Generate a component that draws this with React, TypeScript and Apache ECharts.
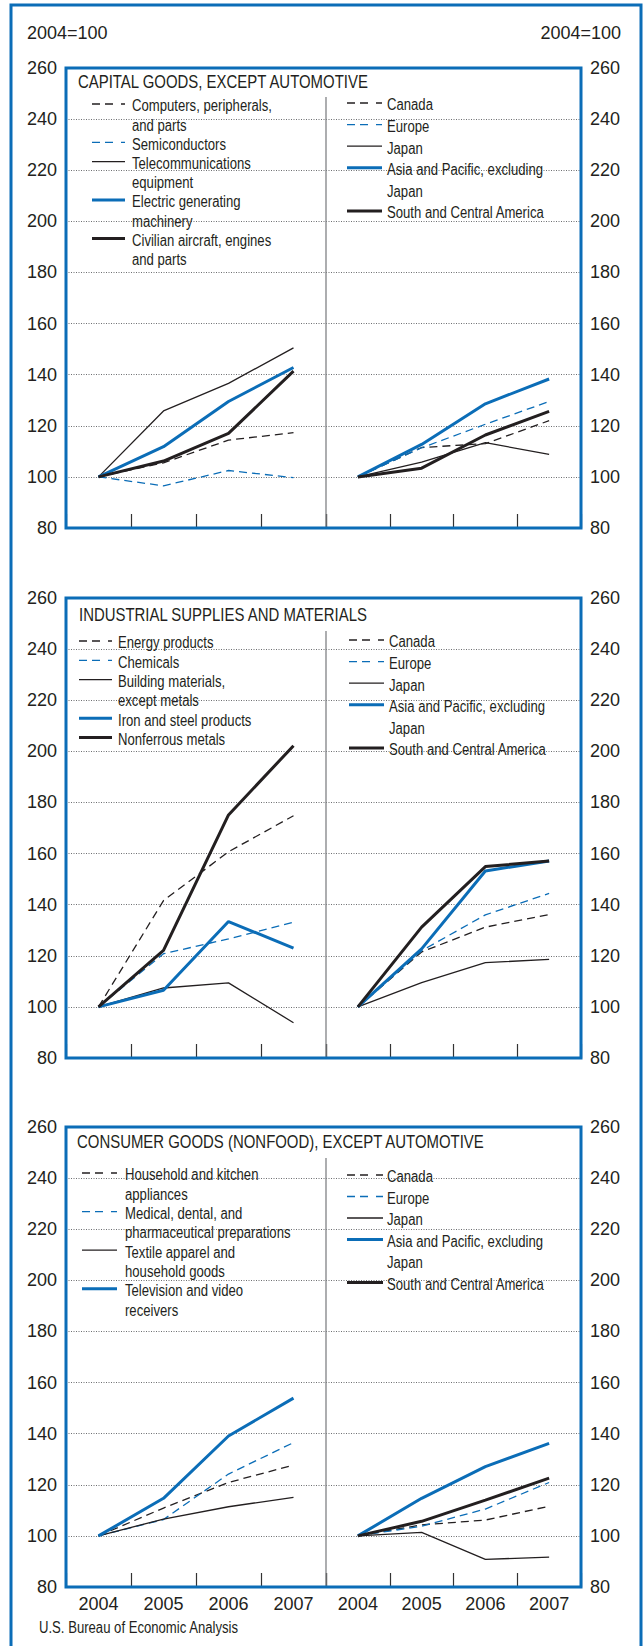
import React, { useEffect, useRef } from 'react';
import * as echarts from 'echarts';

// ---------- data ----------
const years = ['2004', '2005', '2006', '2007'];
const yMin = 80;
const yMax = 260;
const yStep = 20;
const unitLabel = '2004=100';
const sourceNote = 'U.S. Bureau of Economic Analysis';

const regionNames = ['Canada', 'Europe', 'Japan', 'Asia and Pacific, excluding\nJapan', 'South and Central America'];
const regionKinds = ['blackDash', 'blueDash', 'blackThin', 'blueThick', 'blackThick'];

// Panel 1: capital goods
const capitalTitle = 'CAPITAL GOODS, EXCEPT AUTOMOTIVE';
const capitalProducts = ['Computers, peripherals,\nand parts', 'Semiconductors', 'Telecommunications\nequipment', 'Electric generating\nmachinery', 'Civilian aircraft, engines\nand parts'];
const capitalProductKinds = ['blackDash', 'blueDash', 'blackThin', 'blueThick', 'blackThick'];
const capComputers = [100, 105.5, 114.4, 117.3];
const capSemiconductors = [100, 96.5, 102.5, 99.7];
const capTelecom = [100, 125.8, 136.6, 150.5];
const capElectric = [100, 111.8, 129.5, 142.8];
const capAircraft = [100, 106.2, 117.0, 141.4];
const capCanada = [100, 111.5, 113.0, 122.0];
const capEurope = [100, 111.4, 120.6, 129.5];
const capJapan = [100, 105.8, 113.4, 108.8];
const capAsia = [100, 112.7, 128.6, 138.3];
const capSouth = [100, 103.4, 116.4, 125.6];

// Panel 2: industrial supplies
const industrialTitle = 'INDUSTRIAL SUPPLIES AND MATERIALS';
const industrialProducts = ['Energy products', 'Chemicals', 'Building materials,\nexcept metals', 'Iron and steel products', 'Nonferrous metals'];
const industrialProductKinds = ['blackDash', 'blueDash', 'blackThin', 'blueThick', 'blackThick'];
const indEnergy = [100, 141.6, 160.7, 174.8];
const indChemicals = [100, 120.8, 126.6, 133.1];
const indBuilding = [100, 107.4, 109.4, 93.8];
const indIronSteel = [100, 106.5, 133.4, 123.0];
const indNonferrous = [100, 122.1, 175.1, 202.2];
const indCanada = [100, 121.5, 131.2, 136.1];
const indEurope = [100, 122.0, 136.0, 144.4];
const indJapan = [100, 109.5, 117.3, 118.6];
const indAsia = [100, 122.7, 153.2, 157.1];
const indSouth = [100, 131.2, 154.9, 157.1];

// Panel 3: consumer goods
const consumerTitle = 'CONSUMER GOODS (NONFOOD), EXCEPT AUTOMOTIVE';
const consumerProducts = ['Household and kitchen\nappliances', 'Medical, dental, and\npharmaceutical preparations', 'Textile apparel and\nhousehold goods', 'Television and video\nreceivers'];
const consumerProductKinds = ['blackDash', 'blueDash', 'blackThin', 'blueThick'];
const conHousehold = [100, 110.9, 120.9, 127.7];
const conMedical = [100, 106.4, 124.2, 136.5];
const conTextile = [100, 106.6, 111.4, 115.1];
const conTelevision = [100, 114.7, 139.1, 153.9];
const conCanada = [100, 104.3, 106.2, 111.6];
const conEurope = [100, 103.8, 110.5, 120.9];
const conJapan = [100, 101.4, 90.8, 91.7];
const conAsia = [100, 114.7, 127.1, 136.2];
const conSouth = [100, 105.7, 114.0, 122.6];

// ---------- styles / layout ----------
const BLUE = '#0b6db7';
const INK = '#231f20';
const GRID_GREY = '#6d6e71';
const FONT = '"Liberation Sans", Arial, Helvetica, sans-serif';
const NARROW = 0.82;

const kindStyle: Record<string, { color: string; width: number; dash: number[] | null }> = {
  blackDash: { color: INK, width: 1.3, dash: [8, 5] },
  blueDash: { color: BLUE, width: 1.3, dash: [8, 5] },
  blackThin: { color: INK, width: 1.3, dash: null },
  blueThick: { color: BLUE, width: 3, dash: null },
  blackThick: { color: INK, width: 3, dash: null },
};

const PANEL_LEFT = 66;
const PANEL_MID = 326;
const PANEL_RIGHT = 581;
const PANEL_H = 460;

const panels = [
  {
    top: 68, title: capitalTitle, titleX: 78, titleY: 82, dividerTop: 97,
    products: capitalProducts, productKinds: capitalProductKinds,
    productValues: [capComputers, capSemiconductors, capTelecom, capElectric, capAircraft],
    regionValues: [capCanada, capEurope, capJapan, capAsia, capSouth],
    left: { iconX: 92, iconLen: 33, textX: 132, y: 106, lh: 19.2 },
    right: { iconX: 347, iconLen: 35, textX: 387, y: 105, lh: 21.6 },
    showYears: false,
  },
  {
    top: 598, title: industrialTitle, titleX: 79, titleY: 615, dividerTop: 631,
    products: industrialProducts, productKinds: industrialProductKinds,
    productValues: [indEnergy, indChemicals, indBuilding, indIronSteel, indNonferrous],
    regionValues: [indCanada, indEurope, indJapan, indAsia, indSouth],
    left: { iconX: 79, iconLen: 33, textX: 118, y: 643, lh: 19.3 },
    right: { iconX: 349, iconLen: 35, textX: 389, y: 642, lh: 21.6 },
    showYears: false,
  },
  {
    top: 1127, title: consumerTitle, titleX: 77, titleY: 1142, dividerTop: 1158,
    products: consumerProducts, productKinds: consumerProductKinds,
    productValues: [conHousehold, conMedical, conTextile, conTelevision],
    regionValues: [conCanada, conEurope, conJapan, conAsia, conSouth],
    left: { iconX: 82, iconLen: 35, textX: 125, y: 1175, lh: 19.3 },
    right: { iconX: 347, iconLen: 36, textX: 387, y: 1177, lh: 21.5 },
    showYears: true,
  },
];

function buildOption() {
  const grid: any[] = [];
  const xAxis: any[] = [];
  const yAxis: any[] = [];
  const series: any[] = [];
  const graphic: any[] = [];

  const narrowText = (x: number, y: number, text: string, size: number, lh: number, z = 20) => ({
    type: 'text', x, y, scaleX: NARROW, z,
    style: { text, fontSize: size, fontFamily: FONT, fill: INK, align: 'left', verticalAlign: 'top', lineHeight: lh },
  });

  const legendBlock = (names: string[], kinds: string[], cfg: any) => {
    let row = 0;
    names.forEach((name, k) => {
      const st = kindStyle[kinds[k]];
      const cy = cfg.y + row * cfg.lh;
      graphic.push({
        type: 'line', z: 20,
        shape: { x1: cfg.iconX, y1: cy - 2, x2: cfg.iconX + cfg.iconLen, y2: cy - 2 },
        style: { stroke: st.color, lineWidth: st.width, lineDash: st.dash ? [8, 5, 8, 8] : null },
      });
      graphic.push(narrowText(cfg.textX, cy - cfg.lh / 2, name, 16, cfg.lh));
      row += name.split('\n').length;
    });
  };

  panels.forEach((p, i) => {
    const gl = i * 2;
    const gr = i * 2 + 1;
    grid.push({ left: PANEL_LEFT, top: p.top, width: PANEL_MID - PANEL_LEFT, height: PANEL_H, show: false });
    grid.push({ left: PANEL_MID, top: p.top, width: PANEL_RIGHT - PANEL_MID, height: PANEL_H, show: false });
    [gl, gr].forEach((g) => {
      xAxis.push({
        type: 'category', gridIndex: g, data: years, boundaryGap: true,
        axisLine: { show: false },
        axisTick: { show: true, inside: true, length: 14, interval: 0, lineStyle: { color: '#333', width: 1.2 } },
        axisLabel: { show: p.showYears, margin: 8, fontSize: 18, fontFamily: FONT, color: INK },
        splitLine: { show: false },
      });
      yAxis.push({
        type: 'value', gridIndex: g, min: yMin, max: yMax, interval: yStep,
        position: g === gl ? 'left' : 'right',
        axisLine: { show: false }, axisTick: { show: false },
        axisLabel: { show: true, margin: 9, fontSize: 18, fontFamily: FONT, color: INK },
        splitLine: { show: true, lineStyle: { color: GRID_GREY, width: 1, type: [1, 1.5] } },
      });
    });
    const order = (kinds: string[]) => kinds.map((k, idx) => idx).sort((a, b) => kindStyle[kinds[a]].width - kindStyle[kinds[b]].width);
    order(p.productKinds).forEach((k) => {
      const st = kindStyle[p.productKinds[k]];
      series.push({
        type: 'line', name: p.products[k].replace('\n', ' '), xAxisIndex: gl, yAxisIndex: gl,
        data: p.productValues[k], symbol: 'none', z: st.width > 2 ? 4 : 3,
        lineStyle: { color: st.color, width: st.width, type: st.dash ? st.dash : 'solid' },
      });
    });
    order(regionKinds).forEach((k) => {
      const st = kindStyle[regionKinds[k]];
      series.push({
        type: 'line', name: regionNames[k].replace('\n', ' '), xAxisIndex: gr, yAxisIndex: gr,
        data: p.regionValues[k], symbol: 'none', z: st.width > 2 ? 4 : 3,
        lineStyle: { color: st.color, width: st.width, type: st.dash ? st.dash : 'solid' },
      });
    });

    // panel box + divider
    graphic.push({
      type: 'rect', z: 30,
      shape: { x: PANEL_LEFT, y: p.top, width: PANEL_RIGHT - PANEL_LEFT, height: PANEL_H },
      style: { fill: 'none', stroke: BLUE, lineWidth: 3 },
    });
    graphic.push({
      type: 'line', z: 5,
      shape: { x1: PANEL_MID, y1: p.dividerTop, x2: PANEL_MID, y2: p.top + PANEL_H },
      style: { stroke: '#808285', lineWidth: 1.3 },
    });
    graphic.push({
      type: 'text', x: p.titleX, y: p.titleY, scaleX: 0.83, z: 20,
      style: { text: p.title, fontSize: 18, fontFamily: FONT, fill: INK, align: 'left', verticalAlign: 'middle' },
    });
    legendBlock(p.products, p.productKinds, p.left);
    legendBlock(regionNames, regionKinds, p.right);
  });

  // outer frame and page texts
  graphic.push({
    type: 'rect', z: 30,
    shape: { x: 11, y: 5, width: 630, height: 1700 },
    style: { fill: 'none', stroke: BLUE, lineWidth: 3 },
  });
  graphic.push({
    type: 'text', x: 27, y: 33, z: 20,
    style: { text: unitLabel, fontSize: 18, fontFamily: FONT, fill: INK, align: 'left', verticalAlign: 'middle' },
  });
  graphic.push({
    type: 'text', x: 621, y: 33, z: 20,
    style: { text: unitLabel, fontSize: 18, fontFamily: FONT, fill: INK, align: 'right', verticalAlign: 'middle' },
  });
  graphic.push({
    type: 'text', x: 39, y: 1628, scaleX: NARROW, z: 20,
    style: { text: sourceNote, fontSize: 16, fontFamily: FONT, fill: INK, align: 'left', verticalAlign: 'middle' },
  });

  return { animation: false, backgroundColor: '#ffffff', grid, xAxis, yAxis, series, graphic };
}

export default function App() {
  const ref = useRef<HTMLDivElement>(null);
  useEffect(() => {
    if (!ref.current) return;
    const chart = echarts.init(ref.current, null, { renderer: 'svg' });
    chart.setOption(buildOption() as any);
    return () => chart.dispose();
  }, []);
  return <div ref={ref} style={{ position: 'absolute', left: 0, top: 0, width: 644, height: 1646 }} />;
}
